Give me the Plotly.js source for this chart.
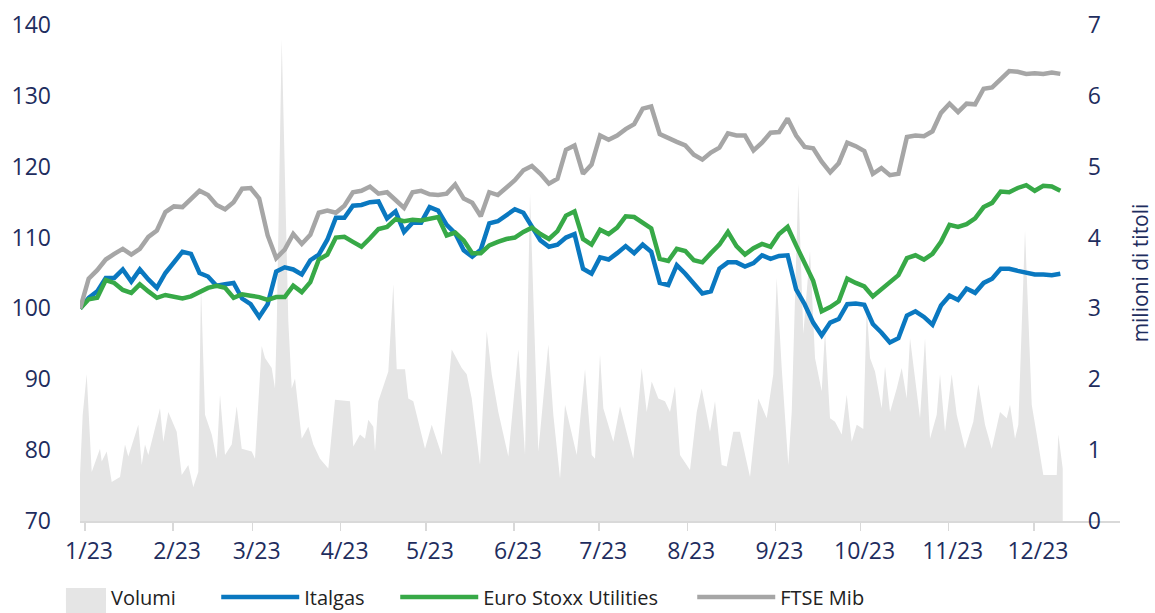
<!DOCTYPE html>
<html><head><meta charset="utf-8">
<script src="https://cdn.plot.ly/plotly-3.0.1.min.js"></script>
<style>html,body{margin:0;padding:0;background:#fff;overflow:hidden;} #chart{width:1155px;height:640px;}</style>
</head><body><div id="chart"></div>
<script>
// Index values (base 100), one every 3 days starting 30 Dec 2022
const italgas = [100, 101.5, 102.4, 104.3, 104.3, 105.5, 103.8, 105.5, 104.1, 102.9,
 105.0, 106.6, 108, 107.7, 105, 104.5, 103.2, 103.4, 103.6, 101.4,
 100.6, 98.8, 100.6, 105.2, 105.8, 105.5, 104.8, 106.8, 107.6, 109.7,
 112.8, 112.8, 114.5, 114.6, 115, 115.1, 112.7, 113.7, 110.8, 112.1,
 112.1, 114.3, 113.8, 111.8, 110.6, 108.2, 107.3, 108.3, 112, 112.3,
 113.1, 114, 113.5, 111.6, 109.6, 108.7, 109, 110, 110.5, 105.6,
 104.9, 107.2, 106.9, 107.8, 108.8, 107.8, 109, 108, 103.6, 103.3,
 106.1, 104.9, 103.5, 102.1, 102.4, 105.6, 106.5, 106.5, 105.9, 106.4,
 107.5, 107, 107.4, 107.5, 102.7, 100.6, 98, 96.2, 98, 98.5,
 100.6, 100.7, 100.5, 97.8, 96.6, 95.2, 95.8, 99, 99.6, 98.8,
 97.7, 100.4, 101.8, 101.2, 102.8, 102.2, 103.6, 104.2, 105.6, 105.6,
 105.3, 105.1, 104.8, 104.8, 104.7, 104.9];
const euroStoxxUtilities = [100, 101.3, 101.5, 104, 103.6, 102.6, 102.2, 103.4, 102.4, 101.5,
 101.9, 101.7, 101.4, 101.7, 102.3, 102.9, 103.2, 102.9, 101.5, 102,
 101.8, 101.6, 101.2, 101.6, 101.6, 103.2, 102.3, 103.7, 106.9, 107.6,
 110, 110.1, 109.4, 108.7, 109.9, 111.2, 111.5, 112.6, 112.3, 112.5,
 112.4, 112.6, 112.9, 110.3, 110.7, 109.6, 107.8, 107.8, 108.9, 109.4,
 109.8, 110, 110.8, 111.4, 110.5, 109.8, 110.9, 113.1, 113.7, 109.8,
 109, 111.1, 110.5, 111.4, 113, 112.9, 112.1, 111.3, 107, 106.7,
 108.4, 108.1, 106.8, 106.5, 107.8, 109, 110.8, 108.8, 107.6, 108.5,
 109.1, 108.7, 110.5, 111.5, 108.9, 106.4, 103.9, 99.6, 100.2, 101,
 104.2, 103.6, 103.1, 101.7, 102.7, 103.9, 104.7, 107.1, 107.5, 106.9,
 107.7, 109.4, 111.8, 111.5, 111.9, 112.7, 114.3, 114.9, 116.5, 116.4,
 117, 117.4, 116.6, 117.3, 117.2, 116.6];
const ftseMib = [100, 104.2, 105.4, 106.9, 107.7, 108.4, 107.6, 108.4, 110.1, 111,
 113.6, 114.4, 114.3, 115.4, 116.6, 116, 114.6, 114, 115, 116.9,
 117, 115.5, 110.3, 107.1, 108.3, 110.5, 109.1, 110.4, 113.5, 113.8,
 113.5, 114.5, 116.4, 116.6, 117.2, 116.2, 116.4, 115.3, 114.2, 116.4,
 116.6, 116.1, 116, 116.2, 117.5, 115.5, 114.9, 113.0, 116.4, 116,
 117.1, 118.1, 119.5, 120.1, 119, 117.6, 118.3, 122.4, 123, 119,
 120.3, 124.4, 123.8, 124.4, 125.3, 126, 128.2, 128.5, 124.6, 124,
 123.5, 123, 121.7, 121, 122, 122.7, 124.7, 124.4, 124.4, 122.3,
 123.4, 124.8, 124.9, 126.8, 124.4, 122.8, 122.6, 120.7, 119.2, 120.5,
 123.4, 122.9, 122.2, 119, 119.8, 118.8, 119, 124.2, 124.4, 124.3,
 125, 127.6, 128.9, 127.7, 128.9, 128.8, 131, 131.2, 132.3, 133.5,
 133.4, 133.1, 133.2, 133.1, 133.3, 133.1];
const lineStartDay = -1.7;   // days from 1 Jan 2023
const lineStepDays = 3;

// Volumes (millions of shares), day offsets from 1 Jan 2023
const volumeDays = [-1.76, -0.81, 0.6, 2.36, 5.28, 5.88, 7.64, 9.4, 12.32, 14.08, 15.24, 18.76, 19.96, 21.12, 22.28, 26.4, 27.56, 29.32, 32.28, 34.04,
 36.36, 38.12, 39.88, 40.83, 42.24, 44.6, 46.36, 47.52, 49.28, 51.64, 53.4, 55.16, 58.68, 59.84, 62.2, 63.36, 65.72, 66.88, 67.48, 69.24,
 71.56, 72.76, 73.92, 76.28, 78.6, 80.36, 82.72, 85.64, 88, 93.28, 94.44, 96.8, 98.56, 99.72, 101.48, 102.08, 103.24, 106.76, 108.52, 109.72,
 112.64, 113.8, 115.56, 118.52, 119.68, 122.04, 125.56, 129.08, 132.6, 134.36, 136.12, 139.04, 141.4, 143.16, 145.48, 149, 152.52, 154.88, 156.64, 159.56,
 163.08, 164.84, 167.2, 168.96, 171.32, 173.08, 176, 178.36, 179.52, 181.27, 182.44, 185.96, 188.31, 193, 195.95, 197.71, 199.47, 201.8, 204.15, 205.91,
 207.67, 209.43, 212.95, 215.31, 217.07, 219.99, 221.75, 224.11, 225.87, 228.19, 230.55, 234.07, 236.99, 239.95, 242.27, 243.47, 245.23, 247.55, 248.75, 251.07,
 252.83, 255.19, 256.95, 259.31, 260.47, 262.23, 263.99, 266.35, 268.11, 269.87, 271.63, 273.95, 275.15, 276.31, 278.07, 280.43, 281.59, 283.35, 285.71, 287.47,
 289.23, 290.39, 293.91, 295.67, 297.43, 299.79, 300.95, 302.71, 305.07, 306.83, 309.75, 312.67, 314.43, 316.79, 319.15, 322.07, 324.43, 325.59, 327.35, 328.51,
 330.87, 333.23, 334.99, 337.31, 342.03, 342.59, 344.14];
const volumeMillions = [0.65, 1.5, 2.07, 0.69, 1.02, 0.84, 0.98, 0.55, 0.62, 1.08, 0.91, 1.36, 0.79, 1.08, 0.93, 1.59, 1.12, 1.54, 1.26, 0.65,
 0.79, 0.48, 0.69, 3.3, 1.5, 1.22, 0.88, 1.78, 0.93, 1.08, 1.62, 1.02, 0.98, 0.88, 2.47, 2.3, 2.16, 1.87, 2.73, 6.8,
 2.82, 1.87, 2.01, 1.16, 1.33, 1.08, 0.88, 0.74, 1.71, 1.69, 1.05, 1.22, 1.16, 1.43, 1.33, 0.98, 1.69, 2.11, 3.34, 2.14,
 2.14, 1.73, 1.69, 1.22, 1.02, 1.36, 0.93, 2.42, 2.16, 2.07, 1.73, 0.79, 2.68, 2.07, 1.54, 0.91, 2.42, 0.93, 4.62, 0.98,
 2.49, 1.5, 0.6, 1.64, 1.22, 0.93, 2.14, 0.93, 0.88, 2.35, 1.59, 1.12, 1.62, 0.88, 2.16, 1.54, 1.97, 1.73, 1.69, 1.54,
 1.9, 0.93, 0.72, 1.54, 1.87, 1.26, 1.69, 0.79, 0.77, 1.26, 1.26, 0.62, 1.73, 1.45, 2.07, 3.43, 2.16, 0.79, 1.54, 4.76,
 2.64, 3.81, 2.3, 1.83, 2.68, 1.45, 1.4, 1.22, 1.78, 1.12, 1.36, 1.3, 3.0, 2.3, 2.11, 1.59, 2.18, 1.54, 1.87, 2.16,
 1.73, 2.58, 1.45, 2.58, 1.16, 1.5, 2.07, 1.26, 2.07, 1.5, 1.02, 1.4, 1.93, 1.36, 1.02, 1.54, 1.45, 1.64, 1.16, 1.36,
 4.1, 1.64, 1.22, 0.65, 0.65, 1.22, 0.74];

const seriesNames = ['Volumi', 'Italgas', 'Euro Stoxx Utilities', 'FTSE Mib'];
const axisRangeDays = [-1.76, 364.3];

const DAY = 86400000, BASE = Date.UTC(2023, 0, 1);
function dayToDate(d) { return new Date(BASE + d * DAY).toISOString().slice(0, 23).replace('T', ' '); }
const lineDates = italgas.map((_, i) => dayToDate(lineStartDay + i * lineStepDays));
const volDates = volumeDays.map(dayToDate);

const NAVY = '#1e2d5e';
const FONT = 'Open Sans, sans-serif';
const VOL_GREY = '#e5e5e5';
const LW = 4.5;

const traces = [
  {x: volDates, y: volumeMillions, name: seriesNames[0], type: 'scatter', mode: 'lines', fill: 'tozeroy',
   line: {width: 0, color: VOL_GREY}, fillcolor: VOL_GREY, yaxis: 'y', hoverinfo: 'skip', legend: 'legend'},
  {x: lineDates, y: italgas, name: seriesNames[1], type: 'scatter', mode: 'lines', line: {color: '#0a78c0', width: LW}, yaxis: 'y2', legend: 'legend2', legendwidth: 86},
  {x: lineDates, y: euroStoxxUtilities, name: seriesNames[2], type: 'scatter', mode: 'lines', line: {color: '#37a947', width: LW}, yaxis: 'y2', legend: 'legend2', legendwidth: 204},
  {x: lineDates, y: ftseMib, name: seriesNames[3], type: 'scatter', mode: 'lines', line: {color: '#a6a6a6', width: LW}, yaxis: 'y2', legend: 'legend2'}
];

const legendFont = {size: 20, color: '#222', family: FONT};
const LEG_Y = -0.153;
const layout = {
  width: 1155, height: 640,
  margin: {l: 80, r: 35, t: 25, b: 119},
  paper_bgcolor: '#fff', plot_bgcolor: '#fff',
  font: {family: FONT, color: NAVY},
  showlegend: true,
  legend: {orientation: 'h', x: -0.0183, xanchor: 'left', y: LEG_Y, yanchor: 'middle',
    font: legendFont, itemwidth: 40, bgcolor: 'rgba(0,0,0,0)'},
  legend2: {orientation: 'h', x: 0.131, xanchor: 'left', y: LEG_Y, yanchor: 'middle',
    font: legendFont, itemwidth: 78, traceorder: 'normal', bgcolor: 'rgba(0,0,0,0)'},
  shapes: [{type: 'rect', xref: 'paper', yref: 'paper', x0: -0.0135, x1: 0.025, y0: -0.21, y1: -0.135,
    fillcolor: VOL_GREY, line: {width: 0}, layer: 'above'}],
  xaxis: {type: 'date', range: [dayToDate(axisRangeDays[0]), dayToDate(axisRangeDays[1])],
    tick0: '2023-01-01', dtick: 'M1', tickformat: '%-m/%y',
    ticks: 'outside', ticklen: 8, tickwidth: 1.5, tickcolor: '#d9d9d9',
    showline: true, linecolor: '#d9d9d9', linewidth: 2, showgrid: false, zeroline: false,
    tickfont: {size: 23, color: NAVY, family: FONT}, ticklabelstandoff: 0, ticklabelshift: 4},
  yaxis: {range: [0, 7], dtick: 1, side: 'right', anchor: 'free', position: 0.968,
    showgrid: false, zeroline: false, showline: false, ticks: '',
    tickfont: {size: 23, color: NAVY, family: FONT},
    title: {text: 'milioni di titoli', standoff: 33, font: {size: 21, color: NAVY, family: FONT}}},
  yaxis2: {range: [70, 140], dtick: 10, overlaying: 'y', side: 'left', showgrid: false, zeroline: false, showline: false, ticks: '',
    ticklabelstandoff: 28, tickfont: {size: 23, color: NAVY, family: FONT}}
};

Plotly.newPlot('chart', traces, layout, {displayModeBar: false, staticPlot: true});
</script>
</body></html>
